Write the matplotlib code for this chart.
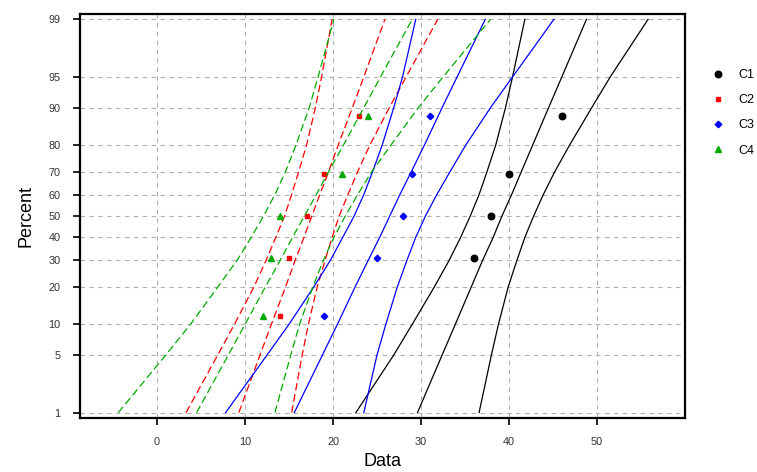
import matplotlib
matplotlib.use("Agg")
import matplotlib.pyplot as plt
from matplotlib.lines import Line2D
from statistics import NormalDist

plt.rcParams['font.family'] = ['Liberation Sans', 'DejaVu Sans']

pct_levels = [1, 5, 10, 20, 30, 40, 50, 60, 70, 80, 90, 95, 99]

# plotted points (percent positions for the 5 ranks)
pt_pct = [11.9, 31, 50, 69, 88.1]
c1_x = [36, 38, 40, 46]
c1_pct = [31, 50, 69, 88.1]
c2_x = [14, 15, 17, 19, 23]
c3_x = [19, 25, 28, 29, 31]
c4_x = [12, 13, 14, 21, 24]

# C1 curves
c1_lo = [22.6, 26.9, 29.0, 31.5, 33.2, 34.5, 35.6, 36.6, 37.5, 38.5, 39.6, 40.4, 41.8]
c1_fit = [29.6, 32.4, 33.9, 35.7, 37.0, 38.2, 39.2, 40.3, 41.4, 42.7, 44.5, 46.0, 48.8]
c1_hi = [36.6, 38.0, 38.8, 39.9, 40.9, 41.8, 42.8, 43.9, 45.2, 46.9, 49.4, 51.5, 55.8]
# C2 curves
c2_lo = [3.3, 6.9, 8.8, 11.0, 12.4, 13.5, 14.5, 15.3, 16.1, 17.0, 18.0, 18.7, 19.9]
c2_fit = [9.3, 11.7, 13.0, 14.6, 15.7, 16.7, 17.6, 18.5, 19.5, 20.6, 22.2, 23.5, 25.9]
c2_hi = [15.3, 16.5, 17.2, 18.2, 19.1, 19.9, 20.7, 21.7, 22.8, 24.2, 26.4, 28.3, 31.9]
# C3 curves
c3_lo = [7.8, 12.5, 15.0, 17.8, 19.7, 21.1, 22.4, 23.5, 24.5, 25.6, 26.9, 27.9, 29.4]
c3_fit = [15.6, 18.8, 20.5, 22.5, 24.0, 25.3, 26.45, 27.6, 28.9, 30.4, 32.4, 34.1, 37.3]
c3_hi = [23.5, 25.0, 26.0, 27.3, 28.4, 29.4, 30.5, 31.8, 33.3, 35.1, 37.9, 40.4, 45.1]
# C4 curves
c4_lo = [-4.4, 1.0, 3.8, 6.9, 9.1, 10.7, 12.1, 13.4, 14.6, 15.8, 17.3, 18.3, 20.1]
c4_fit = [4.5, 8.1, 10.0, 12.3, 14.0, 15.4, 16.75, 18.1, 19.5, 21.2, 23.5, 25.4, 29.0]
c4_hi = [13.4, 15.2, 16.2, 17.7, 18.9, 20.1, 21.4, 22.8, 24.4, 26.6, 29.7, 32.5, 37.9]

ytick_pct = [1, 5, 10, 20, 30, 40, 50, 60, 70, 80, 90, 95, 99]
xticks = [0, 10, 20, 30, 40, 50]


def probit(p):
    return [NormalDist().inv_cdf(v / 100.0) for v in p]


fig = plt.figure(figsize=(7.57, 4.72), dpi=100)
ax = fig.add_axes([80 / 757, 54 / 472, 605 / 757, 404 / 472])

dash = (0, (6, 3))
series = [
    ("C1", "black", "o", 4.7, "-", c1_x, c1_pct, [c1_lo, c1_fit, c1_hi]),
    ("C2", "#ff0000", "s", 3.0, dash, c2_x, pt_pct, [c2_lo, c2_fit, c2_hi]),
    ("C3", "#0000ff", "D", 3.3, "-", c3_x, pt_pct, [c3_lo, c3_fit, c3_hi]),
    ("C4", "#00aa00", "^", 4.0, dash, c4_x, pt_pct, [c4_lo, c4_fit, c4_hi]),
]

zl = probit(pct_levels)
handles = []
for name, col, mk, ms, ls, xs, ps, curves in series:
    for c in curves:
        ax.plot(c, zl, color=col, linestyle=ls, lw=0.9)
    ax.plot(xs, probit(ps), linestyle="none", marker=mk, ms=ms, color=col)
    handles.append(Line2D([], [], linestyle="none", marker=mk, ms=ms, color=col))

ax.set_xlim(-8.75, 60)
ax.set_ylim(-2.39, 2.39)
ax.set_xticks(xticks)
ax.set_yticks(probit(ytick_pct))
ax.set_yticklabels([str(v) for v in ytick_pct])
ax.tick_params(direction="out", length=5, width=1.2, labelsize=7.8,
               labelcolor="#333333", pad=9)
ax.grid(True, color="#b0b0b0", linestyle=(0, (4, 4)), lw=0.8)
for s in ax.spines.values():
    s.set_linewidth(1.6)

ax.set_xlabel("Data", fontsize=13, labelpad=4)
ax.set_ylabel("Percent", fontsize=13, labelpad=10)

fig.legend(handles, ["C1", "C2", "C3", "C4"], loc="upper left",
           bbox_to_anchor=(700 / 757, 1 - 58 / 472), frameon=False,
           fontsize=9, handlelength=1.0, handletextpad=1.2, labelspacing=1.05)

fig.savefig("out.png", dpi=100)
